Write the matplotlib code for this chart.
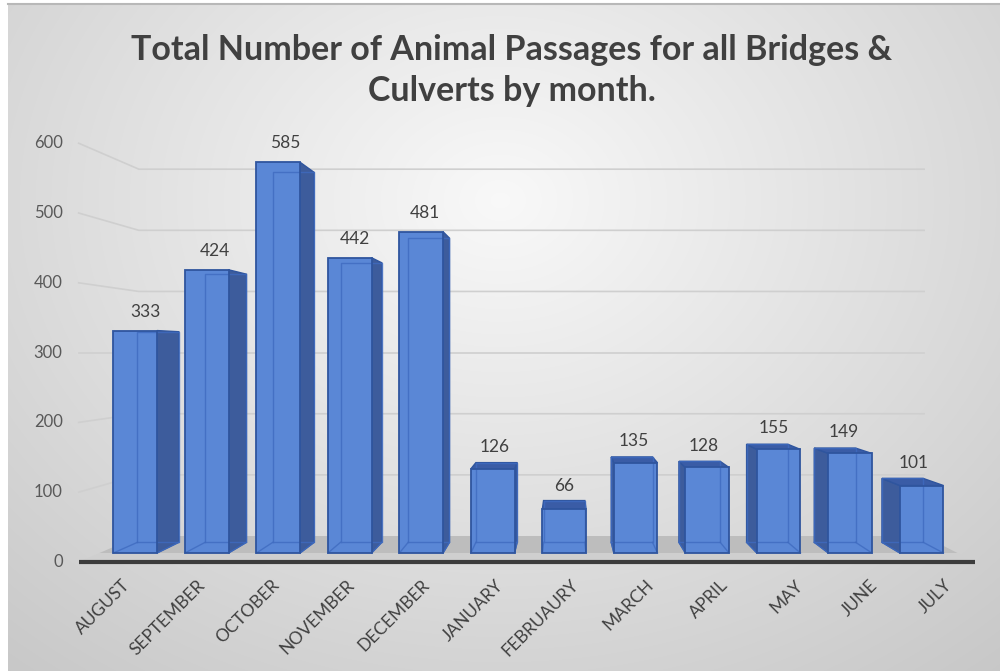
import numpy as np
import matplotlib
matplotlib.use("Agg")
import matplotlib.pyplot as plt
from matplotlib.patches import Polygon

plt.rcParams["font.family"] = ["Lato", "DejaVu Sans"]

months = ["AUGUST", "SEPTEMBER", "OCTOBER", "NOVEMBER", "DECEMBER", "JANUARY",
          "FEBRUAURY", "MARCH", "APRIL", "MAY", "JUNE", "JULY"]
passages = [333, 424, 585, 442, 481, 126, 66, 135, 128, 155, 149, 101]
y_ticks = [0, 100, 200, 300, 400, 500, 600]
title = "Total Number of Animal Passages for all Bridges &\nCulverts by month."

# simple one-point perspective: a point at depth factor s is pulled toward VP
VP = (6.0, 300.0)
D_FRONT = 0.957    # front face of the columns
D_BACK = 0.906     # back face of the columns
D_WALL = 0.876     # back wall / far edge of the floor
HALF_W = 0.305

FACE = "#5A87D6"
SIDE = "#3D5C9C"
TOP = "#3A5CA6"
EDGE = "#2F559E"


def proj(x, y, s):
    return (VP[0] + s * (x - VP[0]), VP[1] + s * (y - VP[1]))


fig = plt.figure(figsize=(10, 6.71), dpi=100, facecolor="white")

# radial grey background of the chart area
bg = fig.add_axes([0.008, 0.0, 0.992, 0.994])
h, w = 667, 992
yy, xx = np.mgrid[0:h, 0:w]
r = np.sqrt(((xx - 492) / 560.0) ** 2 + ((yy - 196) / 450.0) ** 2)
shade = np.clip(0.975 - 0.14 * r, 0, 1)
bg.imshow(np.dstack([shade] * 3), aspect="auto", extent=(0, 1, 0, 1))
bg.set_axis_off()
bg.plot([0, 1], [1, 1], color="#b8b8b8", lw=1.5, transform=bg.transAxes, clip_on=False)

ax = fig.add_axes([0, 0, 1, 1])
ax.set_xlim(-116 / 74.7, (1000 - 116) / 74.7)
ax.set_ylim(-156.2, 805.2)
ax.set_axis_off()
ax.patch.set_alpha(0)

x0, x1 = -0.5, len(months) - 0.5

# gridlines on the back wall and the left wall
for v in y_ticks[1:]:
    a = proj(x0, v, 1.0)
    b = proj(x0, v, D_WALL)
    c = proj(x1, v, D_WALL)
    ax.plot([a[0], b[0], c[0]], [a[1], b[1], c[1]], color="#cfcfcf", lw=1.2, zorder=1)

# floor
near = [proj(x0, 0, 1.0), proj(x1, 0, 1.0), proj(x1, 0, D_FRONT), proj(x0, 0, D_FRONT)]
far = [proj(x0, 0, D_FRONT), proj(x1, 0, D_FRONT), proj(x1, 0, D_WALL), proj(x0, 0, D_WALL)]
ax.add_patch(Polygon(near, closed=True, fc="#cfcfcf", ec="none", zorder=2))
ax.add_patch(Polygon(far, closed=True, fc="#bdbdbd", ec="none", zorder=2))
ax.plot([x0, x1], [0, 0], color="#3c3c3c", lw=3, solid_capstyle="butt", zorder=3)

# y tick labels
for v in y_ticks:
    ax.annotate(str(v), (x0, v), xytext=(-16, 0), textcoords="offset pixels",
                ha="right", va="center", fontsize=12, color="#595959")

# category labels
for i, m in enumerate(months):
    ax.annotate(m, (i, 0), xytext=(6, -15), textcoords="offset pixels",
                ha="right", va="top", rotation=45, rotation_mode="anchor",
                fontsize=12.5, color="#404040")

# columns
for i, val in enumerate(passages):
    l, rr = i - HALF_W, i + HALF_W
    fbl, fbr = proj(l, 0, D_FRONT), proj(rr, 0, D_FRONT)
    ftl, ftr = proj(l, val, D_FRONT), proj(rr, val, D_FRONT)
    bbl, bbr = proj(l, 0, D_BACK), proj(rr, 0, D_BACK)
    btl, btr = proj(l, val, D_BACK), proj(rr, val, D_BACK)

    if i < VP[0] - 0.3:
        side = [fbr, ftr, btr, bbr]
    elif i > VP[0] + 0.3:
        side = [fbl, ftl, btl, bbl]
    else:
        side = None
    if side is not None:
        ax.add_patch(Polygon(side, closed=True, fc=SIDE, ec=EDGE, lw=1.0, zorder=4))
    if val < VP[1]:
        ax.add_patch(Polygon([ftl, ftr, btr, btl], closed=True, fc=TOP, ec=EDGE,
                             lw=1.0, zorder=4))

    ax.add_patch(Polygon([fbl, fbr, ftr, ftl], closed=True, fc=FACE, ec="none", zorder=5))
    # back edges seen through the translucent column
    back = [bbl, bbr, btr, btl, bbl]
    ax.plot([p[0] for p in back], [p[1] for p in back], color="#3F6BC0", lw=1.0,
            alpha=0.8, zorder=6)
    for a, b in [(fbl, bbl), (fbr, bbr)]:
        ax.plot([a[0], b[0]], [a[1], b[1]], color="#3F6BC0", lw=1.0, alpha=0.8, zorder=6)
    ax.add_patch(Polygon([fbl, fbr, ftr, ftl], closed=True, fc="none", ec=EDGE,
                         lw=1.3, zorder=7))

    lx, ly = proj(i, val, 0.935)
    ax.annotate(str(val), (lx, max(ly, proj(i, val, D_FRONT)[1])), xytext=(0, 11),
                textcoords="offset pixels", ha="center", va="bottom",
                fontsize=12.5, color="#404040", zorder=8)

fig.text(0.512, 0.95, title, ha="center", va="top", fontsize=24.5, fontweight="bold",
         color="#404040", linespacing=1.38)

fig.savefig("out.png", dpi=100)
